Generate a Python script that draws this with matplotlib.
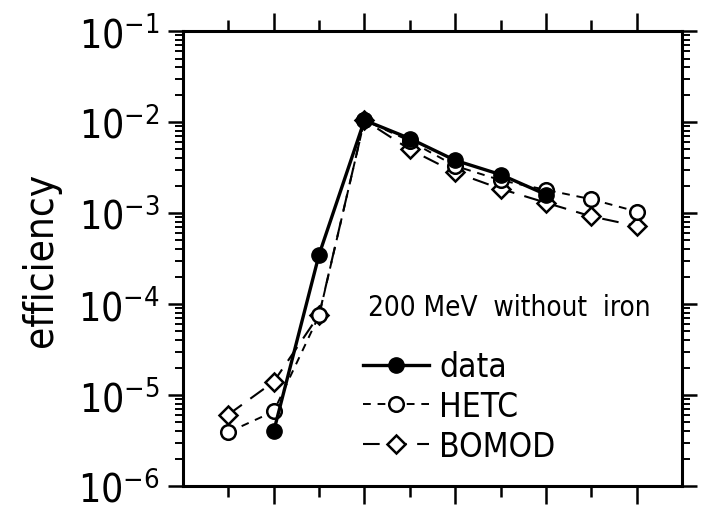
import numpy as np
import matplotlib
matplotlib.use("Agg")
import matplotlib.pyplot as plt
from matplotlib.ticker import LogLocator, FixedLocator, NullFormatter, FuncFormatter

plt.rcParams['font.family'] = ['DejaVu Sans']
plt.rcParams['font.stretch'] = 'condensed'

# channel positions and efficiencies
x_data = [2, 3, 4, 5, 6, 7, 8]
eff_data = [4.0e-6, 3.5e-4, 1.05e-2, 6.6e-3, 3.8e-3, 2.65e-3, 1.6e-3]

x_hetc = [1, 2, 3, 4, 5, 6, 7, 8, 9, 10]
eff_hetc = [3.9e-6, 6.6e-6, 7.5e-5, 1.05e-2, 6.2e-3, 3.3e-3, 2.3e-3, 1.8e-3, 1.42e-3, 1.04e-3]

x_bomod = [1, 2, 3, 4, 5, 6, 7, 8, 9, 10]
eff_bomod = [6.1e-6, 1.4e-5, 7.6e-5, 1.05e-2, 5.0e-3, 2.8e-3, 1.85e-3, 1.3e-3, 9.2e-4, 7.2e-4]

title_text = "200 MeV  without  iron"

fig = plt.figure(figsize=(7.11, 5.10), dpi=100)
ax = fig.add_axes([0.2574, 0.0451, 0.7018, 0.8919])

ax.plot(x_bomod, eff_bomod, color='black', lw=1.5, ls=(0, (8, 5)),
        marker='D', ms=9, mfc='white', mec='black', mew=1.8, label='BOMOD', zorder=2)
ax.plot(x_hetc, eff_hetc, color='black', lw=1.4, ls=(0, (4, 3.5)),
        marker='o', ms=10.5, mfc='white', mec='black', mew=1.8, label='HETC', zorder=3)
ax.plot(x_data, eff_data, color='black', lw=2.4, ls='-',
        marker='o', ms=11, mfc='black', mec='black', label='data', zorder=4)

ax.set_yscale('log')
ax.set_ylim(1e-6, 1e-1)
ax.set_xlim(0, 11)

for s in ax.spines.values():
    s.set_linewidth(2.2)

ax.xaxis.set_major_locator(FixedLocator([2, 4, 6, 8, 10]))
ax.xaxis.set_minor_locator(FixedLocator([1, 3, 5, 7, 9]))
ax.xaxis.set_major_formatter(NullFormatter())
ax.tick_params(axis='x', which='major', direction='out', length=13, width=1.8,
               top=True, bottom=True)
ax.tick_params(axis='x', which='minor', direction='out', length=8, width=1.8,
               top=True, bottom=True)

ax.yaxis.set_major_locator(LogLocator(base=10, numticks=10))
ax.yaxis.set_minor_locator(LogLocator(base=10, subs=np.arange(2, 10), numticks=10))
ax.yaxis.set_minor_formatter(NullFormatter())
ax.yaxis.set_major_formatter(FuncFormatter(lambda v, p: r'$10^{-%d}$' % abs(round(np.log10(v)))))
ax.tick_params(axis='y', which='major', direction='out', length=11, width=1.8,
               left=True, right=True, labelsize=28, pad=6)
ax.tick_params(axis='y', which='minor', direction='out', length=6, width=1.4,
               left=True, right=True)

ax.set_ylabel('efficiency', fontsize=29, labelpad=12)

ax.text(0.37, 0.394, title_text, transform=ax.transAxes, fontsize=20,
        ha='left', va='center')

handles, labels = ax.get_legend_handles_labels()
order = [2, 1, 0]
ax.legend([handles[i] for i in order], [labels[i] for i in order],
          loc='upper left', bbox_to_anchor=(0.36, 0.298), frameon=False,
          fontsize=24, handlelength=2.0, handletextpad=0.3, labelspacing=0.2,
          borderaxespad=0, borderpad=0)

fig.savefig('out.png', dpi=100)
